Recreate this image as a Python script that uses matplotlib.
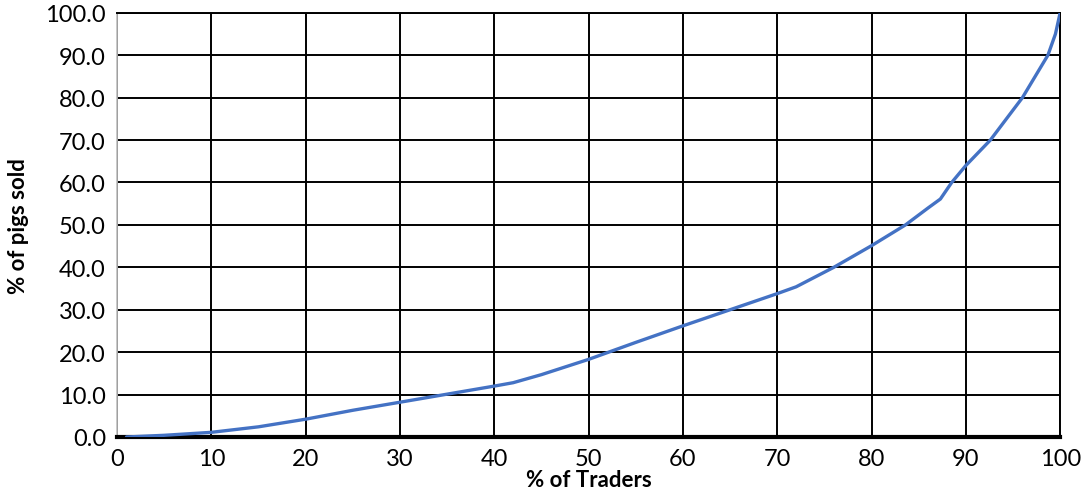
import matplotlib.pyplot as plt
import numpy as np

plt.rcParams['font.family'] = ['Lato', 'DejaVu Sans']

# % of traders vs cumulative % of pigs sold
traders = [1, 5, 10, 15, 20, 25, 30, 35, 40, 42, 45, 50, 55, 60, 65,
           70, 72, 76, 80, 83.6, 86, 87.3, 88.5, 90, 92.6, 96, 98.7, 99.5, 100]
pigs = [0.0, 0.4, 1.1, 2.4, 4.2, 6.3, 8.2, 10.1, 12.0, 12.8, 14.7, 18.3,
        22.3, 26.2, 30.0, 33.8, 35.4, 40.0, 45.1, 50.0, 54.0, 56.1, 60.0,
        64.0, 70.0, 80.0, 90.0, 95.0, 100.0]
xticks = list(range(0, 101, 10))
yticks = list(range(0, 101, 10))

fig = plt.figure(figsize=(10.84, 5.02), dpi=100)
ax = fig.add_axes([0.108, 0.1275, 0.870, 0.845])

ax.plot(traders, pigs, color='#4472C4', lw=2.4, solid_capstyle='round',
        solid_joinstyle='round', zorder=3)

ax.set_xlim(0, 100)
ax.set_ylim(0, 100)
ax.set_xticks(xticks)
ax.set_yticks(yticks)
ax.set_yticklabels([f'{v:.1f}' for v in yticks])
ax.tick_params(labelsize=17, length=0, pad=8)
ax.grid(True, color='black', lw=1.4)
ax.set_axisbelow(True)

for s in ['top', 'right']:
    ax.spines[s].set_color('black')
    ax.spines[s].set_linewidth(1.4)
ax.spines['left'].set_color('#BFBFBF')
ax.spines['left'].set_linewidth(1.2)
ax.spines['bottom'].set_color('black')
ax.spines['bottom'].set_linewidth(3)

ax.set_xlabel('% of Traders', fontsize=16, fontweight='bold', labelpad=0)
ax.set_ylabel('% of pigs sold', fontsize=16, fontweight='bold', labelpad=12)

fig.savefig('out.png', dpi=100)
